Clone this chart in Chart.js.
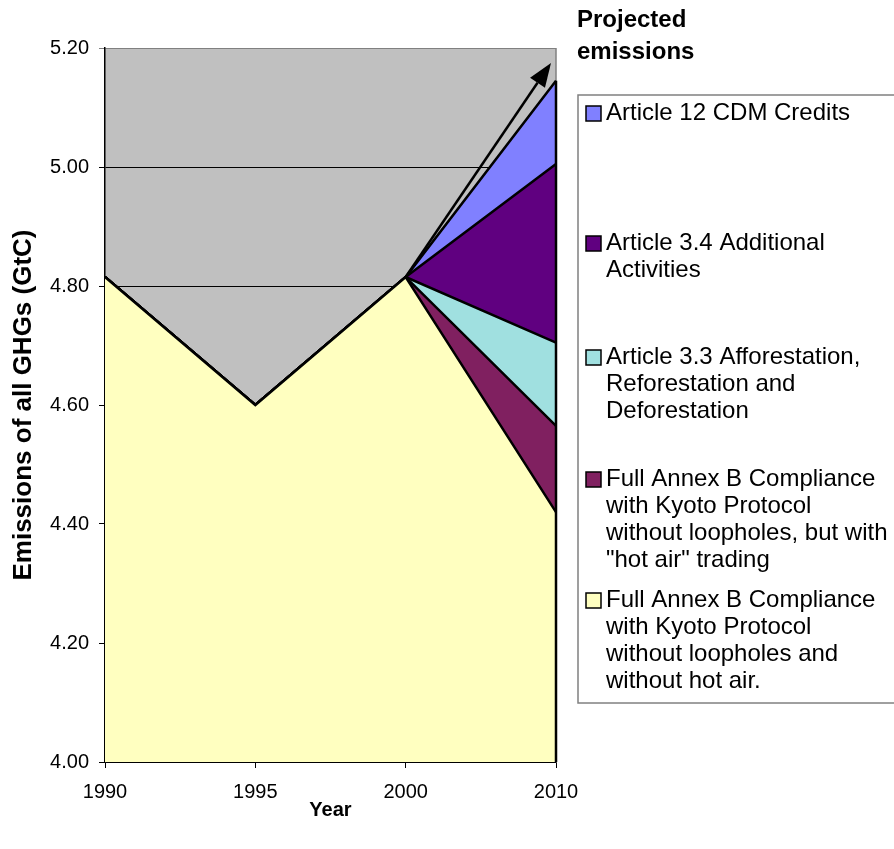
<!DOCTYPE html>
<html>
<head>
<meta charset="utf-8">
<script src="https://cdn.jsdelivr.net/npm/chart.js@4.4.0/dist/chart.umd.min.js"></script>
<style>
  html, body { margin: 0; padding: 0; background: #fff; }
  #wrap { width: 894px; height: 849px; }
</style>
</head>
<body>
<div id="wrap"><canvas id="chart" width="894" height="849"></canvas></div>
<script>
// Annex B emissions, GtC
const years = ['1990', '1995', '2000', '2010'];
const kyotoNoHotAir = [4.815, 4.60, 4.815, 4.42];
// additions stacked on top of the base line (only the 2010 projection grows)
const hotAirTrading = [0, 0, 0, 0.145];
const art33Forests = [0, 0, 0, 0.14];
const art34Activities = [0, 0, 0, 0.30];
const art12Cdm = [0, 0, 0, 0.14];
const yTicks = [4.0, 4.2, 4.4, 4.6, 4.8, 5.0, 5.2];
const arrowFrom = ['2000', 4.815];
const arrowTo = ['2010', 5.175];

const seriesLabels = [
    ['Full Annex B Compliance', 'with Kyoto Protocol', 'without loopholes and', 'without hot air.'],
    ['Full Annex B Compliance', 'with Kyoto Protocol', 'without loopholes, but with', '"hot air" trading'],
    ['Article 3.3 Afforestation,', 'Reforestation and', 'Deforestation'],
    ['Article 3.4 Additional', 'Activities'],
    ['Article 12 CDM Credits']
];
const seriesColors = ['#ffffc0', '#802060', '#a0e0e0', '#600080', '#8080ff'];
const seriesData = [kyotoNoHotAir, hotAirTrading, art33Forests, art34Activities, art12Cdm];

const FONT = 'Liberation Sans, Arial, Helvetica, sans-serif';
Chart.defaults.font.family = FONT;
Chart.defaults.color = '#000';

// first-line y of each legend entry, top to bottom
const legendRows = [113, 243, 357, 479, 600];

const decor = {
    id: 'decor',
    beforeDraw(chart) {
        const { ctx, chartArea: a } = chart;
        ctx.save();
        ctx.fillStyle = '#c0c0c0';
        ctx.fillRect(a.left, a.top, a.right - a.left, a.bottom - a.top);
        ctx.strokeStyle = '#808080';
        ctx.lineWidth = 1.5;
        ctx.beginPath();
        ctx.moveTo(a.right, a.top);
        ctx.lineTo(a.right, a.bottom);
        ctx.stroke();
        ctx.restore();
    },
    afterDatasetsDraw(chart) {
        // closing edge of the stacked areas at the last year
        const { ctx, chartArea: a } = chart;
        const last = chart.getDatasetMeta(chart.data.datasets.length - 1).data[years.length - 1];
        ctx.save();
        ctx.strokeStyle = '#000';
        ctx.lineWidth = 2.5;
        ctx.beginPath();
        ctx.moveTo(last.x, last.y);
        ctx.lineTo(last.x, a.bottom);
        ctx.stroke();
        ctx.restore();
    },
    afterDraw(chart) {
        const { ctx, scales: { x, y } } = chart;
        ctx.save();

        // projection arrow
        const x0 = x.getPixelForValue(years.indexOf(arrowFrom[0]));
        const y0 = y.getPixelForValue(arrowFrom[1]);
        const x1 = x.getPixelForValue(years.indexOf(arrowTo[0])) - 5;
        const y1 = y.getPixelForValue(arrowTo[1]);
        const ang = Math.atan2(y1 - y0, x1 - x0);
        const head = 24, half = 9;
        const bx = x1 - head * Math.cos(ang), by = y1 - head * Math.sin(ang);
        ctx.strokeStyle = '#000';
        ctx.fillStyle = '#000';
        ctx.lineWidth = 2.5;
        ctx.beginPath();
        ctx.moveTo(x0, y0);
        ctx.lineTo(bx, by);
        ctx.stroke();
        ctx.beginPath();
        ctx.moveTo(x1, y1);
        ctx.lineTo(bx + half * Math.sin(ang), by - half * Math.cos(ang));
        ctx.lineTo(bx - half * Math.sin(ang), by + half * Math.cos(ang));
        ctx.closePath();
        ctx.fill();

        // label over the legend
        ctx.font = 'bold 24px ' + FONT;
        ctx.textAlign = 'left';
        ctx.textBaseline = 'middle';
        ctx.fillText('Projected', 577, 20);
        ctx.fillText('emissions', 577, 52);

        // legend box
        ctx.strokeStyle = '#808080';
        ctx.lineWidth = 1.5;
        ctx.strokeRect(578, 95, 330, 608);

        ctx.font = '24px ' + FONT;
        const order = chart.data.datasets.map((d, i) => i).reverse();
        order.forEach((di, row) => {
            const ds = chart.data.datasets[di];
            const top = legendRows[row];
            ctx.fillStyle = ds.backgroundColor;
            ctx.fillRect(586, top - 7, 15, 15);
            ctx.strokeStyle = '#000';
            ctx.lineWidth = 1.5;
            ctx.strokeRect(586, top - 7, 15, 15);
            ctx.fillStyle = '#000';
            seriesLabels[di].forEach((line, k) => ctx.fillText(line, 606, top + k * 27));
        });
        ctx.restore();
    }
};

const datasets = seriesData.map((vals, i) => ({
    label: seriesLabels[i].join(' '),
    data: vals,
    backgroundColor: seriesColors[i],
    borderColor: '#000',
    borderWidth: 2.5,
    pointRadius: 0,
    tension: 0,
    fill: i === 0 ? 'start' : '-1'
}));

new Chart(document.getElementById('chart'), {
    type: 'line',
    data: { labels: years, datasets: datasets },
    plugins: [decor],
    options: {
        responsive: false,
        animation: false,
        layout: { padding: { top: 48, right: 338, bottom: 0, left: 0 } },
        plugins: { legend: { display: false }, tooltip: { enabled: false } },
        scales: {
            x: {
                offset: false,
                afterFit(s) { s.height = 87; },
                border: { color: '#000', width: 1.5 },
                grid: { drawOnChartArea: false, color: '#000', tickLength: 6 },
                ticks: { autoSkip: false, maxRotation: 0, padding: 12, font: { size: 20 } },
                title: { display: true, text: 'Year', font: { size: 20, weight: 'bold' }, padding: { top: 0, bottom: 27 } }
            },
            y: {
                stacked: true,
                min: yTicks[0],
                max: yTicks[yTicks.length - 1],
                afterFit(s) { s.width = 105; },
                afterBuildTicks(s) { s.ticks = yTicks.map(v => ({ value: v })); },
                border: { color: '#000', width: 1.5 },
                grid: {
                    color: c => (c.tick && Math.abs(c.tick.value - 5.2) < 1e-6) ? '#808080' : '#000',
                    tickLength: 6
                },
                ticks: { padding: 10, font: { size: 20 }, callback: v => Number(v).toFixed(2) },
                title: { display: true, text: 'Emissions of all GHGs (GtC)', font: { size: 26, weight: 'bold' }, padding: { top: 8, bottom: 0 } }
            }
        }
    }
});
</script>
</body>
</html>
